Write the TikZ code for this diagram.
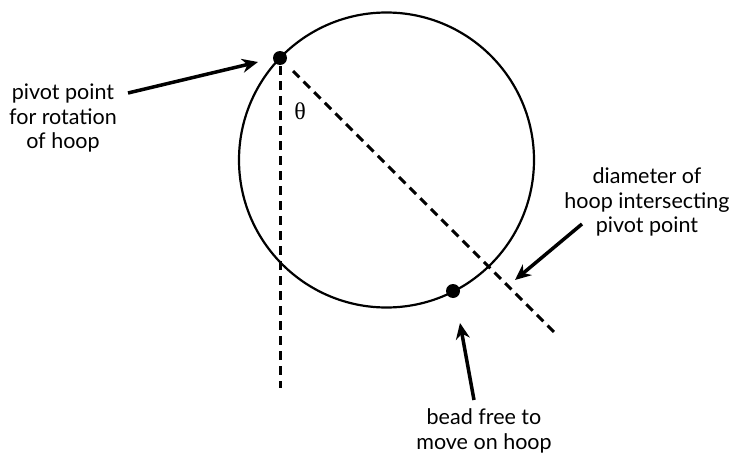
\documentclass[tikz,border=0pt]{standalone}
\usepackage{fontspec}
\setmainfont{Lato}
\newfontfamily\thetafont{Liberation Serif}
\usetikzlibrary{arrows.meta}
\begin{document}
\begin{tikzpicture}[x=1pt,y=-1pt,
  lbl/.style={align=center,font=\fontsize{21.5}{24.5}\selectfont,inner sep=0pt},
  ptr/.style={line width=3.5pt,-{Stealth[length=16pt,width=14pt]}},
  dashline/.style={line width=3pt,dash pattern=on 9pt off 6pt},
  dot/.style={circle,fill=black,inner sep=0pt,minimum size=14pt}]
\useasboundingbox[fill=white] (0,0) rectangle (732,455);
\coordinate (O) at (386.5,160);
\draw[line width=2.2pt] (O) circle[radius=147.5];
\node[dot] (pivot) at (280,58) {};
\node[dot] (bead) at (453,291) {};
\coordinate (vstart) at (280,66);
\coordinate (vend) at (280,388);
\coordinate (dstart) at (293,71);
\coordinate (dend) at (556,334);
\draw[dashline] (vstart) -- (vend);
\draw[dashline] (dstart) -- (dend);
\node[font=\thetafont\fontsize{24}{26}\selectfont,inner sep=0pt] (theta) at (300,111) {θ};
\node[lbl] (pl) at (63,118) {pivot point\\for rotation\\of hoop};
\node[lbl] (dl) at (647,202) {diameter of\\hoop intersecting\\pivot point};
\node[lbl] (bl) at (484,431) {bead free to\\move on hoop};
\coordinate (pa) at (128,93);
\coordinate (ptip) at (258,62);
\coordinate (da) at (582,224);
\coordinate (dtip) at (515,280);
\coordinate (ba) at (474,400);
\coordinate (btip) at (460,323);
\draw[ptr] (pa) -- (ptip);
\draw[ptr] (da) -- (dtip);
\draw[ptr] (ba) -- (btip);
\end{tikzpicture}
\end{document}
